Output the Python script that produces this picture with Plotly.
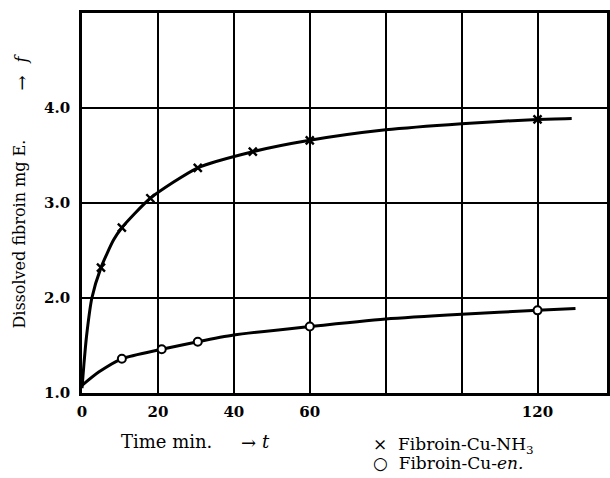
import plotly.graph_objects as go

# ---- data ----
# measured points
nh3_t = [5, 10.5, 18, 30.5, 45, 60, 120]
nh3_v = [2.32, 2.74, 3.05, 3.37, 3.54, 3.66, 3.88]
en_t = [10.5, 21, 30.5, 60, 120]
en_v = [1.36, 1.46, 1.54, 1.70, 1.87]

# drawn smooth curves
nh3_curve_t = [0, 0.5, 1.2, 2.6, 5, 8.3, 10.5, 18, 30.5, 45, 60, 80, 100, 120, 129]
nh3_curve_v = [1.05, 1.3, 1.6, 2.0, 2.32, 2.61, 2.74, 3.05, 3.37, 3.54, 3.66, 3.77, 3.835, 3.88, 3.89]
en_curve_t = [0, 4.4, 10.5, 21, 30.5, 40, 60, 80, 100, 120, 130]
en_curve_v = [1.08, 1.22, 1.36, 1.46, 1.54, 1.61, 1.70, 1.78, 1.83, 1.87, 1.89]

x_tickvals = [0, 20, 40, 60, 120]
x_ticktext = ["0", "20", "40", "60", "120"]
y_tickvals = [1, 2, 3, 4]
y_ticktext = ["1.0", "2.0", "3.0", "4.0"]

SERIF = "DejaVu Serif"

W, H = 610, 478
L, R, T, B = 81.5, 3, 13, 85
PW, PH = W - L - R, H - T - B


def px_x(p):
    return (p - L) / PW


def px_y(p):
    return (H - B - p) / PH


fig = go.Figure()

fig.add_trace(go.Scatter(x=nh3_curve_t, y=nh3_curve_v, mode="lines",
                         line=dict(color="black", width=3, shape="spline", smoothing=0.6),
                         showlegend=False, hoverinfo="skip"))
fig.add_trace(go.Scatter(x=en_curve_t, y=en_curve_v, mode="lines",
                         line=dict(color="black", width=3, shape="spline", smoothing=0.6),
                         showlegend=False, hoverinfo="skip"))

fig.add_trace(go.Scatter(x=nh3_t, y=nh3_v, mode="markers", name="Fibroin-Cu-NH<sub>3</sub>",
                         showlegend=False,
                         marker=dict(symbol="x-thin", size=8, color="black",
                                     line=dict(color="black", width=2.4))))
fig.add_trace(go.Scatter(x=en_t, y=en_v, mode="markers", name="Fibroin-Cu-<i>en.</i>",
                         showlegend=False,
                         marker=dict(symbol="circle", size=8, color="white",
                                     line=dict(color="black", width=2))))

axis_common = dict(showgrid=True, gridcolor="black", gridwidth=2,
                   showline=True, mirror=True, linecolor="black", linewidth=2.8,
                   zeroline=False, ticks="",
                   tickfont=dict(family=SERIF, size=15, weight="bold"))

fig.update_layout(
    width=W, height=H,
    margin=dict(l=L, r=R, t=T, b=B, autoexpand=False),
    paper_bgcolor="white", plot_bgcolor="white",
    font=dict(family=SERIF, color="black", size=16),
    showlegend=False,
    xaxis=dict(range=[0, 138.3], tickvals=x_tickvals, ticktext=x_ticktext,
               ticklabelstandoff=3,
               minor=dict(dtick=20, tick0=0, showgrid=True, gridcolor="black", gridwidth=2, ticks=""),
               **axis_common),
    yaxis=dict(range=[1, 5], tickvals=y_tickvals, ticktext=y_ticktext,
               ticklabelstandoff=6, **axis_common),
)

ann = dict(xref="paper", yref="paper", showarrow=False, font=dict(family=SERIF, size=16, color="black"))
# y-axis title
fig.add_annotation(ann, text="Dissolved fibroin mg E.", x=px_x(19), y=px_y(234), textangle=-90,
                   xanchor="center", yanchor="middle")
fig.add_annotation(ann, text="→", x=px_x(20), y=px_y(83), textangle=-90, xanchor="center",
                   yanchor="middle", font=dict(family=SERIF, size=18, color="black"))
fig.add_annotation(ann, text="<i>f</i>", x=px_x(20), y=px_y(59), textangle=-90, xanchor="center",
                   yanchor="middle")
# x-axis title
fig.add_annotation(ann, text="Time min.", x=px_x(166), y=px_y(441), xanchor="center", yanchor="middle",
                   font=dict(family=SERIF, size=18, color="black"))
fig.add_annotation(ann, text="→", x=px_x(248), y=px_y(442), xanchor="center", yanchor="middle",
                   font=dict(family=SERIF, size=18, color="black"))
fig.add_annotation(ann, text="<i>t</i>", x=px_x(266), y=px_y(441), xanchor="center", yanchor="middle",
                   font=dict(family=SERIF, size=18, color="black"))
# key
fig.add_annotation(ann, text="×  Fibroin-Cu-NH<sub>3</sub>", x=px_x(371), y=px_y(446),
                   xanchor="left", yanchor="middle", font=dict(family=SERIF, size=17, color="black"))
fig.add_annotation(ann, text="○  Fibroin-Cu-<i>en.</i>", x=px_x(371), y=px_y(463),
                   xanchor="left", yanchor="middle", font=dict(family=SERIF, size=17, color="black"))

fig.write_html("out.html", config={"displayModeBar": False},
               post_script="document.body.style.margin='0';document.body.style.overflow='hidden';")
